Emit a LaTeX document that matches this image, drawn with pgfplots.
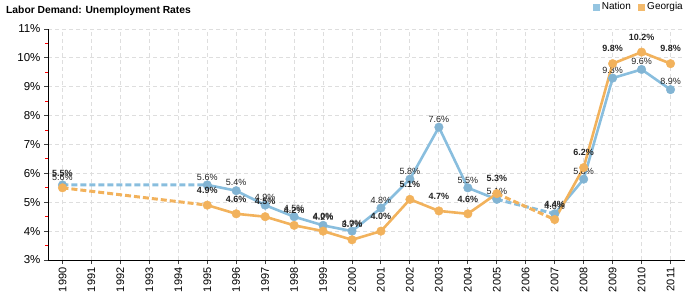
\documentclass[border=0pt]{standalone}
\usepackage{pgfplots}
\pgfplotsset{compat=1.18}
\usepackage{fontspec}
\setmainfont{Liberation Sans}
\definecolor{nationc}{RGB}{137,190,222}
\definecolor{georgiac}{RGB}{242,178,92}
\definecolor{gridc}{RGB}{222,222,222}
\definecolor{labc}{RGB}{35,35,35}
\begin{document}
\begin{tikzpicture}[x=1pt,y=1pt]
\begin{axis}[
  at={(48pt,40pt)}, anchor=south west,
  width=637pt, height=231pt, scale only axis,
  xmin=1989.5, xmax=2011.5, ymin=3, ymax=11,
  xtick={1990,...,2011}, ytick={3,...,11},
  minor y tick num=1,
  axis x line*=bottom, axis y line*=left,
  axis line style={black, line width=0.9pt},
  grid=major,
  major grid style={gridc, dash pattern=on 4pt off 3pt, line width=0.9pt},
  tick align=outside,
  major tick length=4pt, minor tick length=3pt,
  major tick style={black!75, line width=0.9pt},
  minor tick style={red, line width=0.9pt},
  /pgf/number format/assume math mode=true,
  xticklabel style={rotate=90, anchor=east, font=\fontsize{11}{12}\selectfont, /pgf/number format/1000 sep={}},
  yticklabel={\pgfmathprintnumber{\tick}\%},
  yticklabel style={font=\fontsize{11.5}{12}\selectfont},
  legend columns=2,
  legend style={at={(1,1.095)}, anchor=east, draw=none, fill=none,
    font=\fontsize{10}{11}\selectfont, inner sep=0pt,
    /tikz/every even column/.append style={column sep=5pt},
    /tikz/every odd column/.append style={column sep=1pt}},
  clip=false,
]
% Nation
\addplot[forget plot, nationc, line width=3pt, dash pattern=on 6pt off 3pt, mark=none, unbounded coords=jump]
  coordinates {(1990,5.6)(1995,5.6)(2000,nan)(2005,5.1)(2007,4.6)};
\addplot[forget plot, nationc, line width=2.6pt, mark=none, unbounded coords=jump]
  coordinates {(1995,5.6)(1996,5.4)(1997,4.9)(1998,4.5)(1999,4.2)(2000,4.0)(2001,4.8)(2002,5.8)(2003,7.6)(2004,5.5)(2005,5.1)(2006,nan)(2007,4.6)(2008,5.8)(2009,9.3)(2010,9.6)(2011,8.9)};
\addplot[nationc!95!black, only marks, mark=*, mark size=4.3pt, mark options={draw=none, fill=nationc!95!black},
  legend image code/.code={\fill[nationc!90] (0pt,-3pt) rectangle (6pt,3pt);},
  nodes near coords={\pgfmathprintnumber[fixed,fixed zerofill,precision=1]{\pgfplotspointmeta}\%},
  nodes near coords style={font=\fontsize{9}{10}\selectfont, text=labc, inner sep=0pt, yshift=4.5pt}]
  coordinates {(1990,5.6)(1995,5.6)(1996,5.4)(1997,4.9)(1998,4.5)(1999,4.2)(2000,4.0)(2001,4.8)(2002,5.8)(2003,7.6)(2004,5.5)(2005,5.1)(2007,4.6)(2008,5.8)(2009,9.3)(2010,9.6)(2011,8.9)};
\addlegendentry{Nation}
% Georgia
\addplot[forget plot, georgiac, line width=3pt, dash pattern=on 6pt off 3pt, mark=none, unbounded coords=jump]
  coordinates {(1990,5.5)(1995,4.9)(2000,nan)(2005,5.3)(2007,4.4)};
\addplot[forget plot, georgiac, line width=2.6pt, mark=none, unbounded coords=jump]
  coordinates {(1995,4.9)(1996,4.6)(1997,4.5)(1998,4.2)(1999,4.0)(2000,3.7)(2001,4.0)(2002,5.1)(2003,4.7)(2004,4.6)(2005,5.3)(2006,nan)(2007,4.4)(2008,6.2)(2009,9.8)(2010,10.2)(2011,9.8)};
\addplot[georgiac, only marks, mark=*, mark size=4.3pt, mark options={draw=none, fill=georgiac},
  legend image code/.code={\fill[georgiac!90] (0pt,-3pt) rectangle (6pt,3pt);},
  nodes near coords={\pgfmathprintnumber[fixed,fixed zerofill,precision=1]{\pgfplotspointmeta}\%},
  nodes near coords style={font=\bfseries\fontsize{9}{10}\selectfont, text=labc, inner sep=0pt, yshift=11.5pt}]
  coordinates {(1990,5.5)(1995,4.9)(1996,4.6)(1997,4.5)(1998,4.2)(1999,4.0)(2000,3.7)(2001,4.0)(2002,5.1)(2003,4.7)(2004,4.6)(2005,5.3)(2007,4.4)(2008,6.2)(2009,9.8)(2010,10.2)(2011,9.8)};
\addlegendentry{Georgia}
\end{axis}
\node[anchor=west, font=\bfseries\fontsize{10.3}{12}\selectfont, inner sep=0pt] at (6pt,289pt) {Labor Demand: Unemployment Rates};
\pgfresetboundingbox
\useasboundingbox (0pt,0pt) rectangle (700pt,300pt);
\end{tikzpicture}
\end{document}
